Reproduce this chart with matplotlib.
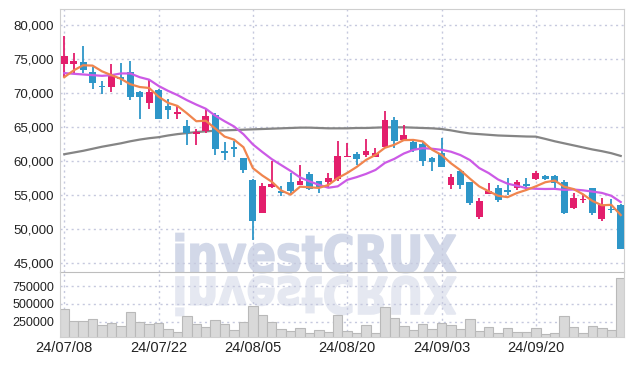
import matplotlib
matplotlib.use("Agg")
import matplotlib.pyplot as plt
from matplotlib.textpath import TextPath
from matplotlib.patches import PathPatch
from matplotlib.font_manager import FontProperties
from matplotlib.transforms import Affine2D, IdentityTransform
from matplotlib.ticker import FuncFormatter

# daily candles 24/07/08 .. 24/10/07 (60 trading days)
opens = [74200, 74300, 74600, 73100, 71000, 70900, 72300, 73000, 70100, 68550,
         70400, 68050, 66950, 65150, 64000, 64450, 66800, 61500, 62000, 60450,
         57200, 52450, 56250, 55600, 56900, 56550, 58100, 57000, 56950, 57300,
         60600, 61000, 60950, 60650, 62000, 66000, 63100, 62800, 62500, 60450,
         61200, 56550, 58550, 56900, 51850, 55200, 56050, 55750, 56000, 56700,
         57300, 57850, 57850, 56900, 53150, 54300, 56050, 51500, 53000, 53550]
highs = [78300, 75800, 76900, 73850, 71800, 74250, 74350, 74700, 70300, 71900,
         70500, 69050, 68150, 66000, 64650, 67600, 67000, 62850, 62900, 60450,
         57300, 56850, 59950, 56350, 58200, 59350, 58400, 57050, 58200, 63000,
         62600, 61400, 63200, 61900, 67300, 66400, 65350, 62900, 62800, 60600,
         63400, 58100, 58700, 56950, 54550, 56850, 56550, 57500, 57150, 57500,
         58600, 58000, 58000, 57150, 55250, 54950, 56100, 54600, 54400, 53700]
lows = [72400, 72900, 72900, 70500, 69850, 70150, 71150, 68950, 66100, 67600,
        66100, 66100, 66200, 62300, 62300, 64050, 60850, 60150, 60650, 58200,
        48400, 52400, 56000, 54800, 55150, 56500, 55750, 55250, 56000, 57100,
        60550, 59350, 60650, 60600, 61950, 61900, 62900, 61300, 59250, 58500,
        59200, 55850, 55850, 53500, 51550, 55150, 54000, 55050, 55700, 55550,
        57150, 57250, 56050, 52250, 52900, 53800, 52050, 51250, 52450, 47050]
closes = [75400, 74700, 73400, 71500, 70800, 72600, 72000, 69450, 69450, 70100,
          66200, 67500, 67200, 64050, 64250, 66600, 61800, 61250, 61800, 58700,
          51250, 56400, 56700, 55350, 55650, 57100, 55950, 56250, 57500, 60750,
          60800, 60350, 61450, 61150, 66000, 63000, 63750, 61600, 60050, 59900,
          59200, 57600, 56550, 53900, 54150, 55650, 54300, 55500, 56950, 56400,
          58300, 57300, 56750, 52450, 54650, 54450, 52450, 53550, 52800, 47150]
volumes = [424000, 260000, 260000, 284000, 204000, 227000, 190000, 382000, 246000, 218000,
           227000, 147000, 105000, 326000, 213000, 176000, 269000, 218000, 129000, 246000,
           471000, 340000, 246000, 143000, 115000, 157000, 87000, 129000, 101000, 340000,
           115000, 87000, 199000, 87000, 452000, 298000, 185000, 129000, 213000, 143000,
           227000, 199000, 143000, 293000, 115000, 171000, 87000, 157000, 101000, 101000,
           157000, 73000, 87000, 326000, 171000, 87000, 185000, 157000, 129000, 860000]

# moving averages as shown on the chart
ma5 = [72300, 73300, 74050, 74000, 73160, 72600, 72060, 71270, 70860, 70720,
       69440, 68540, 68090, 67010, 65840, 65920, 64780, 63590, 63140, 62030,
       58960, 57880, 56970, 55680, 55070, 56240, 56150, 56060, 56490, 57510,
       58250, 59130, 60170, 60900, 61950, 62390, 63070, 63100, 62880, 61660,
       60900, 59670, 58660, 57430, 56280, 55570, 54910, 54700, 55310, 55760,
       56290, 56890, 57140, 56240, 55890, 55120, 54150, 53510, 53580, 52080]
ma10 = [72900, 72800, 72700, 72600, 72500, 72600, 72850, 72850, 72300, 71940,
        71020, 70300, 69680, 68935, 68280, 67680, 66660, 65840, 65075, 63935,
        62440, 61330, 60280, 59410, 58550, 57600, 57015, 56515, 56085, 56290,
        57245, 57640, 58115, 58695, 59730, 60320, 61100, 61635, 61890, 61805,
        61645, 61370, 60880, 60155, 58970, 58235, 57290, 56680, 56370, 56020,
        55930, 55900, 55920, 55775, 55825, 55705, 55520, 55325, 54910, 53985]
ma60 = [61000, 61250, 61500, 61800, 62100, 62350, 62600, 62900, 63150, 63350,
        63500, 63750, 63950, 64100, 64250, 64350, 64450, 64500, 64550, 64600,
        64650, 64700, 64750, 64800, 64850, 64900, 64900, 64850, 64800, 64800,
        64800, 64850, 64850, 64900, 64950, 64950, 64950, 64900, 64850, 64800,
        64700, 64500, 64250, 64050, 63950, 63850, 63750, 63700, 63650, 63600,
        63580, 63250, 62900, 62600, 62300, 62000, 61700, 61450, 61150, 60750]

tick_pos = [0, 10, 20, 30, 40, 50]
tick_labels = ['24/07/08', '24/07/22', '24/08/05', '24/08/20', '24/09/03', '24/09/20']

UP = '#e31e6c'
DOWN = '#2e96c8'
GRID = '#c6c9de'
plt.rcParams['font.family'] = ['Liberation Sans', 'DejaVu Sans']


def watermark(fig):
    tp = TextPath((0, 0), 'investCRUX', size=1,
                  prop=FontProperties(family='DejaVu Sans', weight='bold'))
    bb = tp.get_extents()
    sx = (456 - 176) / bb.width
    sy = 37 / 0.73
    H = fig.bbox.height
    tr = Affine2D().translate(-bb.x0, 0).scale(sx, sy).translate(176, H - 272)
    fig.patches.append(PathPatch(tr.transform_path(tp), fc='#d2d8e8', ec='#d2d8e8',
                                 lw=1.2, transform=IdentityTransform(), zorder=-1))
    tr2 = Affine2D().translate(-bb.x0, 0).scale(sx, -sy).translate(176, H - 277)
    fig.patches.append(PathPatch(tr2.transform_path(tp), fc='#e5e8f1', ec='#e5e8f1',
                                 lw=1.2, transform=IdentityTransform(), zorder=-1))


fig = plt.figure(figsize=(6.34, 3.66), dpi=100)
ax = fig.add_axes([0.0951, 0.256, 0.8896, 0.7186])
axv = fig.add_axes([0.0951, 0.0792, 0.8896, 0.1768], sharex=ax)
watermark(fig)

x = list(range(len(closes)))
colors = [UP if c >= o else DOWN for o, c in zip(opens, closes)]
bottoms = [min(o, c) for o, c in zip(opens, closes)]
heights = [max(abs(c - o), 180) for o, c in zip(opens, closes)]

ax.vlines(x, lows, highs, colors=colors, linewidth=1.3, zorder=3)
ax.bar(x, heights, bottom=bottoms, width=0.72, color=colors, linewidth=0, zorder=4)
ax.plot(x, ma60, color='#858585', linewidth=1.6, zorder=2)
ax.plot(x, ma10, color='#cc5ae6', linewidth=1.6, zorder=5)
ax.plot(x, ma5, color='#f0854e', linewidth=1.6, zorder=6)

ax.set_xlim(-0.42, 59.38)
ax.set_ylim(43680, 82260)
ax.set_yticks(range(45000, 80001, 5000))
ax.yaxis.set_major_formatter(FuncFormatter(lambda v, p: '{:,.0f}'.format(v)))

axv.bar(x, volumes, width=1.0, color='#d9d9d9', edgecolor='#b9b9b9', linewidth=0.8, zorder=2)
axv.set_ylim(35000, 944000)
axv.set_yticks([250000, 500000, 750000])
axv.yaxis.set_major_formatter(FuncFormatter(lambda v, p: '%d' % v))
axv.set_xticks(tick_pos)
axv.set_xticklabels(tick_labels)

for a in (ax, axv):
    a.set_facecolor('none')
    a.grid(True, linestyle=(0, (1.5, 2.5)), color=GRID, linewidth=1.0)
    a.set_axisbelow(True)
    a.tick_params(length=0, labelsize=9.5, labelcolor='#222222', pad=4.5)
    for s in a.spines.values():
        s.set_color('#cfcfcf')
ax.tick_params(labelbottom=False)
ax.spines['bottom'].set_color('#bdbdbd')
axv.spines['top'].set_visible(False)
axv.tick_params(axis='y', labelsize=9)
axv.tick_params(axis='x', labelsize=10.5, pad=3)

fig.savefig('out.png', dpi=100)
